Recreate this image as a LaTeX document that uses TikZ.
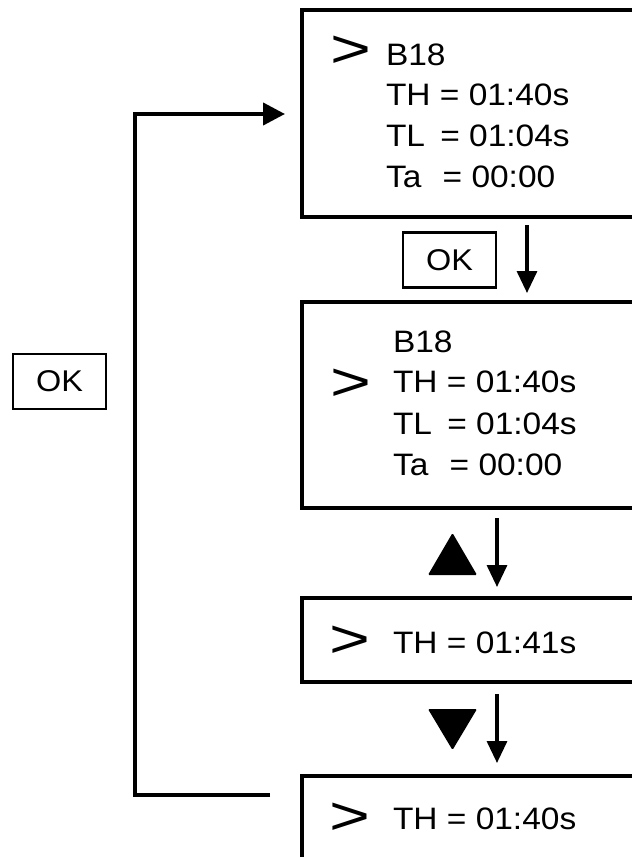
\documentclass[tikz,border=0pt]{standalone}
\usepackage{fontspec}
\setmainfont{Liberation Sans}[FakeStretch=1.08]
\usetikzlibrary{arrows.meta}
\begin{document}
\begin{tikzpicture}[x=1pt,y=-1pt,
  screen/.style={draw, line width=3.8pt, inner sep=0pt, outer sep=0pt, anchor=north west, minimum width=360pt},
  keybox/.style={draw, line width=2.8pt, inner sep=0pt, outer sep=0pt, minimum width=93pt, minimum height=55pt, font=\fontsize{30}{30}\selectfont},
  txt/.style={anchor=base west, inner sep=0pt, outer sep=0pt, font=\fontsize{31}{37}\selectfont},
  cursor/.style={anchor=center, inner sep=0pt, outer sep=0pt, font=\fontsize{54}{54}\selectfont},
  flow/.style={line width=3.3pt, -{Triangle[length=22pt,width=20pt]}},
  loopline/.style={line width=4.2pt, -{Triangle[length=22pt,width=22pt]}},
  tri/.style={fill=black, rounded corners=1.2pt}
]
\useasboundingbox (0,0) rectangle (632,857);
\clip (0,0) rectangle (632,857);

% screens
\node[screen, minimum height=207pt] (s1) at (302,10) {};
\node[screen, minimum height=206pt] (s2) at (302,302) {};
\node[screen, minimum height=84pt] (s3) at (302,598) {};
\node[screen, minimum height=120pt] (s4) at (302,776) {};

% screen 1 text
\node[cursor] (c1) at (351,52) {\scalebox{1.2}[1]{>}};
\node[txt] (t11) at (386,65) {B18};
\node[txt] (t12) at (386,105) {TH = 01:40s};
\node[txt] (t13) at (386,146) {TL\hspace{6pt} = 01:04s};
\node[txt] (t14) at (386,187) {Ta\hspace{12pt} = 00:00};

% screen 2 text
\node[cursor] (c2) at (351,385) {\scalebox{1.2}[1]{>}};
\node[txt] (t21) at (393,352) {B18};
\node[txt] (t22) at (393,392) {TH = 01:40s};
\node[txt] (t23) at (393,434) {TL\hspace{6pt} = 01:04s};
\node[txt] (t24) at (393,475) {Ta\hspace{12pt} = 00:00};

% screen 3 text
\node[cursor] (c3) at (350,642) {\scalebox{1.2}[1]{>}};
\node[txt] (t31) at (393,653) {TH = 01:41s};

% screen 4 text
\node[cursor] (c4) at (350,819) {\scalebox{1.2}[1]{>}};
\node[txt] (t41) at (393,829) {TH = 01:40s};

% keys
\node[keybox] (ok1) at (449.5,260) {OK};
\node[keybox] (ok2) at (59.5,381.5) {OK};
\fill[tri] (428,575) -- (452.5,533) -- (477,575) -- cycle;
\fill[tri] (428,709) -- (452.5,750) -- (477,709) -- cycle;

% connectors
\coordinate (xa) at (527,0);
\coordinate (xb) at (497,0);
\draw[flow, shorten <=8pt, shorten >=9pt] (s1.south -| xa) -- (s2.north -| xa);
\draw[flow, shorten <=10pt, shorten >=11pt] (s2.south -| xb) -- (s3.north -| xb);
\draw[flow, shorten <=12pt, shorten >=13pt] (s3.south -| xb) -- (s4.north -| xb);

\coordinate (lb) at (0,795);
\coordinate (lt) at (135,114);
\draw[loopline, shorten <=32pt, shorten >=17pt] (s4.west |- lb) -| (lt) -- (s1.west |- lt);
\end{tikzpicture}
\end{document}
